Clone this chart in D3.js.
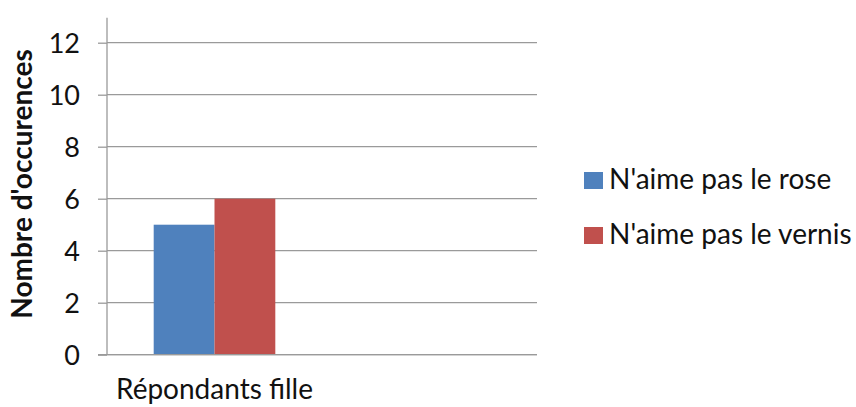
<!DOCTYPE html>
<html><head><meta charset="utf-8">
<script src="https://cdn.jsdelivr.net/npm/d3@7"></script>
<style>body{margin:0;background:#fff}svg{display:block}text{font-family:Lato,"Open Sans",sans-serif;fill:#111}</style>
</head><body>
<script>
const categories = ["Répondants fille", ""];
const seriesNames = ["N'aime pas le rose", "N'aime pas le vernis"];
const roseValues = [5, null];
const vernisValues = [6, null];
const yTicks = [0, 2, 4, 6, 8, 10, 12];
const yTitle = "Nombre d'occurences";
const colors = ["#4f81bd", "#c0504d"];

const W = 856, H = 407;
const svg = d3.select("body").append("svg").attr("width", W).attr("height", H);

const plotLeft = 107, plotRight = 537, plotBottom = 354.7, plotTop = 16.7;
const y = d3.scaleLinear().domain([0, 13]).range([plotBottom, plotTop]);
const x0 = d3.scaleBand().domain(categories).range([plotLeft, plotRight]).paddingInner(0).paddingOuter(0);
const x1 = d3.scaleBand().domain(seriesNames).range([0, x0.bandwidth()]).paddingInner(0).paddingOuter(0.768);

// gridlines
svg.append("g").selectAll("line").data(yTicks).join("line")
  .attr("x1", plotLeft).attr("x2", plotRight)
  .attr("y1", d => y(d)).attr("y2", d => y(d))
  .attr("stroke", "#9a9a9a").attr("stroke-width", 1.3);

// bars
const series = [roseValues, vernisValues];
const barData = [];
categories.forEach((c, i) => series.forEach((s, j) => { if (s[i] != null) barData.push({c, s: seriesNames[j], v: s[i], col: colors[j]}); }));
svg.append("g").selectAll("rect").data(barData).join("rect")
  .attr("x", d => x0(d.c) + x1(d.s)).attr("width", x1.bandwidth())
  .attr("y", d => y(d.v)).attr("height", d => y(0) - y(d.v))
  .attr("fill", d => d.col);

// y axis
const yAxis = d3.axisLeft(y).tickValues(yTicks).tickSize(9).tickPadding(18).tickFormat(d3.format("d"));
const gy = svg.append("g").attr("transform", `translate(${plotLeft},0)`).call(yAxis);
gy.select(".domain").attr("d", `M0,${y(13)+1}V${plotBottom}`).attr("stroke", "#9a9a9a").attr("stroke-width", 1.3);
gy.selectAll(".tick line").attr("stroke", "#9a9a9a").attr("stroke-width", 1.3);
gy.selectAll(".tick text").style("font-size", "27px").attr("fill", "#111").attr("dy", "0.36em");

// x axis line
svg.append("line").attr("x1", plotLeft - 9).attr("x2", plotRight).attr("y1", plotBottom).attr("y2", plotBottom)
  .attr("stroke", "#9a9a9a").attr("stroke-width", 1.3);

// category labels
svg.append("g").selectAll("text").data(categories).join("text")
  .attr("x", d => x0(d) + x0.bandwidth() / 2).attr("y", 399)
  .attr("text-anchor", "middle").style("font-size", "28px").text(d => d);

// y title
svg.append("text").attr("transform", `translate(32,184) rotate(-90)`)
  .attr("text-anchor", "middle").style("font-size", "28px").style("font-weight", "bold").text(yTitle);

// legend
const lg = svg.append("g").selectAll("g").data(seriesNames).join("g")
  .attr("transform", (d, i) => `translate(584,${172 + i * 55})`);
lg.append("rect").attr("width", 19).attr("height", 17).attr("fill", (d, i) => colors[i]);
lg.append("text").attr("x", 25).attr("y", 17).style("font-size", "28px").text(d => d);
</script>
</body></html>
